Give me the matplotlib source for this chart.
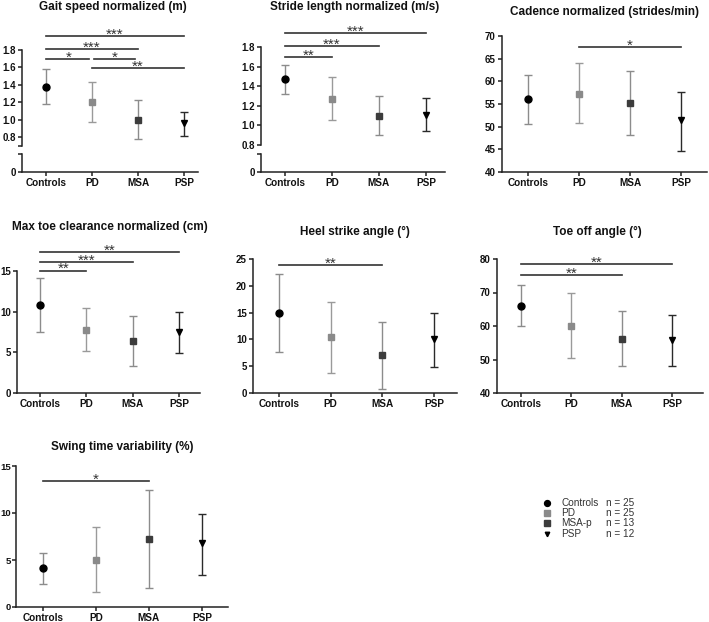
import matplotlib
matplotlib.use("Agg")
import matplotlib.pyplot as plt
import numpy as np

W, H = 709, 622
plt.rcParams['font.family'] = ['Liberation Sans', 'DejaVu Sans']
plt.rcParams['font.weight'] = 'bold'

groups = ['Controls', 'PD', 'MSA', 'PSP']

gait_mean = [1.38, 1.20, 1.00, 0.96]
gait_lo = [1.18, 0.97, 0.78, 0.81]
gait_hi = [1.58, 1.43, 1.22, 1.09]
gait_sig = [(0, 3, 1.96, '***'), (0, 2, 1.81, '***'), (0, 1, 1.70, '*'),
            (1, 2, 1.70, '*'), (1, 3, 1.59, '**')]

stride_mean = [1.47, 1.27, 1.10, 1.11]
stride_lo = [1.32, 1.05, 0.90, 0.94]
stride_hi = [1.62, 1.49, 1.30, 1.28]
stride_sig = [(0, 3, 1.94, '***'), (0, 2, 1.81, '***'), (0, 1, 1.70, '**')]

cad_mean = [56.0, 57.3, 55.2, 51.4]
cad_lo = [50.6, 50.8, 48.2, 44.7]
cad_hi = [61.5, 64.0, 62.2, 57.6]
cad_sig = [(1, 3, 67.6, '*')]

toe_mean = [10.8, 7.8, 6.4, 7.5]
toe_lo = [7.5, 5.2, 3.3, 4.95]
toe_hi = [14.1, 10.4, 9.5, 9.9]
toe_sig = [(0, 3, 17.3, '**'), (0, 2, 16.1, '***'), (0, 1, 15.05, '**')]

heel_mean = [15.0, 10.4, 7.0, 10.1]
heel_lo = [7.7, 3.8, 0.7, 4.9]
heel_hi = [22.2, 17.0, 13.3, 14.9]
heel_sig = [(0, 2, 23.9, '**')]

off_mean = [66.0, 60.0, 56.2, 55.8]
off_lo = [60.0, 50.4, 48.0, 48.0]
off_hi = [72.2, 69.8, 64.5, 63.2]
off_sig = [(0, 3, 78.5, '**'), (0, 2, 75.2, '**')]

swing_mean = [4.1, 5.0, 7.2, 6.8]
swing_lo = [2.5, 1.6, 2.0, 3.4]
swing_hi = [5.7, 8.5, 12.4, 9.9]
swing_sig = [(0, 2, 13.4, '*')]

legend_names = ['Controls', 'PD', 'MSA-p', 'PSP']
legend_n = [25, 25, 13, 12]

markers = ['o', 's', 's', 'v']
msizes = [5, 5, 5, 3.8]
face = ['black', '#8a8a8a', '#3c3c3c', 'black']
ecol = ['#8c8c8c', '#9a9a9a', '#8c8c8c', '#2a2a2a']
axc = '#222222'

fig = plt.figure(figsize=(W / 100, H / 100), dpi=100)


def make_ax(l, r, c0, c3, ref, bot, top):
    # ref = (v1, p1, v2, p2) value->pixel row pairs
    v1, p1, v2, p2 = ref
    s = (p1 - p2) / (v2 - v1)
    ax = fig.add_axes([l / W, 1 - bot / H, (r - l) / W, (bot - top) / H])
    ax.patch.set_alpha(0)
    sx = (c3 - c0) / 3
    ax.set_xlim(-(c0 - l) / sx, 3 + (r - c3) / sx)
    ax.set_ylim(v1 - (bot - p1) / s, v2 + (p2 - top) / s)
    for k in ['top', 'right']:
        ax.spines[k].set_visible(False)
    for k in ['left', 'bottom']:
        ax.spines[k].set_color(axc)
        ax.spines[k].set_linewidth(1.1)
    ax.tick_params(colors=axc, width=1.1, length=3, pad=1.5, labelsize=7)
    ax.tick_params(labelcolor='#111111')
    return ax


def draw(ax, mean, lo, hi, sig, gap=None):
    for i in range(4):
        ax.errorbar(i, mean[i], yerr=[[mean[i] - lo[i]], [hi[i] - mean[i]]],
                    fmt=markers[i], ms=msizes[i], mfc=face[i], mec=face[i],
                    ecolor=ecol[i], elinewidth=1.0, capsize=2.6, capthick=1.0,
                    zorder=3)
    for (i, j, y, lab) in sig:
        a, b = i, j
        if gap is not None and y == gap:
            a, b = i + 0.05 * (i > 0), j - 0.07
        ax.plot([a, b], [y, y], color='#333333', lw=1.2, clip_on=False)
        ax.annotate(lab, ((i + j) / 2, y), xytext=(0, 1.0), textcoords='offset points',
                    ha='center', va='center', fontsize=11, color='#333333',
                    fontweight='normal', annotation_clip=False)


def yticks(ax, vals, fmt, top):
    ax.set_yticks(vals)
    ax.set_yticklabels([fmt.format(v) for v in vals])
    ax.spines['left'].set_bounds(ax.get_ylim()[0], top)


def xticks(ax):
    ax.set_xticks(range(4))
    ax.set_xticklabels(groups, fontsize=7.2)


def broken(l, r, c0, c3, ref, ubot, lbot, ltop, mean, lo, hi, sig, gap=None):
    s = (ref[1] - ref[3]) / (ref[2] - ref[0])
    up = make_ax(l, r, c0, c3, ref, ubot, 20)
    up.spines['bottom'].set_visible(False)
    up.tick_params(axis='x', bottom=False, labelbottom=False)
    vb = up.get_ylim()[0]
    ticks = [0.8, 1.0, 1.2, 1.4, 1.6, 1.8]
    up.set_yticks(ticks)
    up.set_yticklabels(['{:.1f}'.format(v) for v in ticks])
    up.set_yticks([vb], minor=True)
    up.tick_params(axis='y', which='minor', length=3, width=1.1, color=axc)
    up.spines['left'].set_bounds(vb, 1.8)
    draw(up, mean, lo, hi, sig, gap)
    lw_ = make_ax(l, r, c0, c3, (0, lbot, 1, lbot - s), lbot, ltop)
    lw_.set_yticks([0])
    lw_.set_yticklabels(['0'])
    lw_.set_yticks([lw_.get_ylim()[1]], minor=True)
    lw_.tick_params(axis='y', which='minor', length=3, width=1.1, color=axc)
    xticks(lw_)
    return up


def title(x, y, txt):
    fig.text(x / W, 1 - y / H, txt, ha='center', va='center', fontsize=8.5,
             fontweight='bold', color='#111111')


# row 1
broken(22, 198, 46, 184, (0.8, 137, 1.8, 50), 146, 172, 154,
       gait_mean, gait_lo, gait_hi, gait_sig, gap=1.70)
title(113, 7, 'Gait speed normalized (m)')

broken(261, 445, 285, 426, (0.8, 145, 1.8, 47), 145, 172, 154,
       stride_mean, stride_lo, stride_hi, stride_sig)
title(355, 7, 'Stride length normalized (m/s)')

ax = make_ax(502, 707, 528, 681, (40, 172, 70, 36), 172, 25)
yticks(ax, [40, 45, 50, 55, 60, 65, 70], '{:d}', 70)
xticks(ax)
draw(ax, cad_mean, cad_lo, cad_hi, cad_sig)
title(604, 12, 'Cadence normalized (strides/min)')

# row 2
ax = make_ax(17, 200, 40, 179, (0, 393, 15, 271), 393, 240)
yticks(ax, [0, 5, 10, 15], '{:d}', 15)
xticks(ax)
draw(ax, toe_mean, toe_lo, toe_hi, toe_sig)
title(110, 227, 'Max toe clearance normalized (cm)')

ax = make_ax(253, 457, 279, 434, (0, 393, 25, 259), 393, 250)
yticks(ax, [0, 5, 10, 15, 20, 25], '{:d}', 25)
xticks(ax)
draw(ax, heel_mean, heel_lo, heel_hi, heel_sig)
title(355, 232, 'Heel strike angle (°)')

ax = make_ax(497, 703, 521, 672, (40, 393, 80, 259), 393, 250)
yticks(ax, [40, 50, 60, 70, 80], '{:d}', 80)
xticks(ax)
draw(ax, off_mean, off_lo, off_hi, off_sig)
title(597, 232, 'Toe off angle (°)')

# row 3
ax = make_ax(16, 228, 43, 202, (0, 607, 15, 466), 607, 460)
yticks(ax, [0, 5, 10, 15], '{:d}', 15)
xticks(ax)
ax.tick_params(axis='y', pad=0.8, labelsize=6.8)
draw(ax, swing_mean, swing_lo, swing_hi, swing_sig)
title(122, 447, 'Swing time variability (%)')

# legend
rows = [503, 513, 523, 534]
for k in range(4):
    yy = 1 - rows[k] / H
    fig.lines.append(plt.Line2D([547 / W], [yy], marker=markers[k], ms=msizes[k] * 0.85,
                                mfc=face[k], mec=face[k], ls='none',
                                transform=fig.transFigure))
    fig.text(561 / W, yy, legend_names[k], fontsize=7.2, color='#333333',
             va='center', fontweight='normal')
    fig.text(606 / W, yy, 'n = {}'.format(legend_n[k]), fontsize=7.2,
             color='#333333', va='center', fontweight='normal')

fig.savefig('out.png', dpi=100)
